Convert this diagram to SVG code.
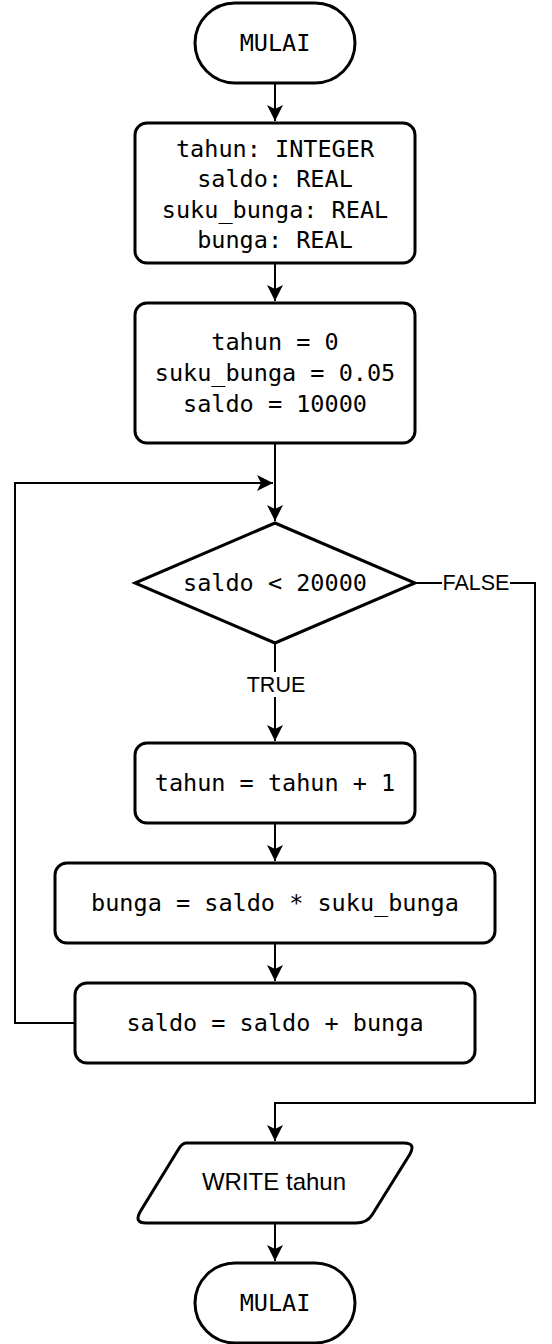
<svg xmlns="http://www.w3.org/2000/svg" width="552" height="1344" viewBox="0 0 552 1344">
<style>
.shape{fill:#fff;stroke:#000;stroke-width:3}
.mono{font-family:"DejaVu Sans Mono","Liberation Mono",monospace;font-size:23.5px;fill:#000;text-anchor:middle}
.sans{font-family:"Liberation Sans",Arial,sans-serif;fill:#000;text-anchor:middle}
.edge{fill:none;stroke:#000;stroke-width:2}
</style>
<defs>
<marker id="arr" markerUnits="userSpaceOnUse" markerWidth="18" markerHeight="18" viewBox="0 0 18 18" refX="16" refY="9" orient="auto">
<path d="M16 9 L0 1 L4 9 L0 17 Z" fill="#000"/>
</marker>
</defs>
<rect width="552" height="1344" fill="#fff"/>
<g id="connectors">
<path class="edge" d="M275 83 V121" marker-end="url(#arr)"/>
<path class="edge" d="M275 263 V301" marker-end="url(#arr)"/>
<path class="edge" d="M275 443 V521" marker-end="url(#arr)"/>
<path class="edge" d="M75 1023 H15 V483 H273" marker-end="url(#arr)"/>
<path class="edge" d="M275 643 V741" marker-end="url(#arr)"/>
<path class="edge" d="M275 823 V861" marker-end="url(#arr)"/>
<path class="edge" d="M275 943 V981" marker-end="url(#arr)"/>
<path class="edge" d="M415 583 H535 V1103 H275 V1141" marker-end="url(#arr)"/>
<path class="edge" d="M275 1223 V1261" marker-end="url(#arr)"/>
<rect x="244" y="672" width="62" height="25" fill="#fff"/>
<text class="sans" x="276" y="692" font-size="21.5">TRUE</text>
<rect x="442" y="572" width="68" height="24" fill="#fff"/>
<text class="sans" x="476" y="590" font-size="21.5">FALSE</text>
</g>
<g id="start">
<rect class="shape" x="195" y="3" width="160" height="80" rx="40" ry="40"/>
<text class="mono" x="275" y="51">MULAI</text>
</g>
<g id="declare">
<rect class="shape" x="135" y="123" width="280" height="140" rx="12" ry="12"/>
<text class="mono" x="275" y="156.5">tahun: INTEGER</text>
<text class="mono" x="275" y="187">saldo: REAL</text>
<text class="mono" x="275" y="217.5">suku_bunga: REAL</text>
<text class="mono" x="275" y="248">bunga: REAL</text>
</g>
<g id="init">
<rect class="shape" x="135" y="303" width="280" height="140" rx="12" ry="12"/>
<text class="mono" x="275" y="350">tahun = 0</text>
<text class="mono" x="275" y="381">suku_bunga = 0.05</text>
<text class="mono" x="275" y="412">saldo = 10000</text>
</g>
<g id="cond">
<path class="shape" d="M275 523 L415 583 L275 643 L135 583 Z"/>
<text class="mono" x="275" y="591">saldo &lt; 20000</text>
</g>
<g id="inc">
<rect class="shape" x="135" y="743" width="280" height="80" rx="12" ry="12"/>
<text class="mono" x="275" y="791">tahun = tahun + 1</text>
</g>
<g id="interest">
<rect class="shape" x="55" y="863" width="440" height="80" rx="12" ry="12"/>
<text class="mono" x="275" y="911">bunga = saldo * suku_bunga</text>
</g>
<g id="update">
<rect class="shape" x="75" y="983" width="400" height="80" rx="12" ry="12"/>
<text class="mono" x="275" y="1031">saldo = saldo + bunga</text>
</g>
<g id="write">
<path class="shape" d="M186 1143 H404 Q416 1143 410 1154 L372 1215 Q367 1223 356 1223 H146 Q134 1223 140 1212 L178 1150 Q182 1143 186 1143 Z"/>
<text class="sans" x="274" y="1190" font-size="24">WRITE tahun</text>
</g>
<g id="end">
<rect class="shape" x="195" y="1263" width="160" height="80" rx="40" ry="40"/>
<text class="mono" x="275" y="1311">MULAI</text>
</g>
</svg>
